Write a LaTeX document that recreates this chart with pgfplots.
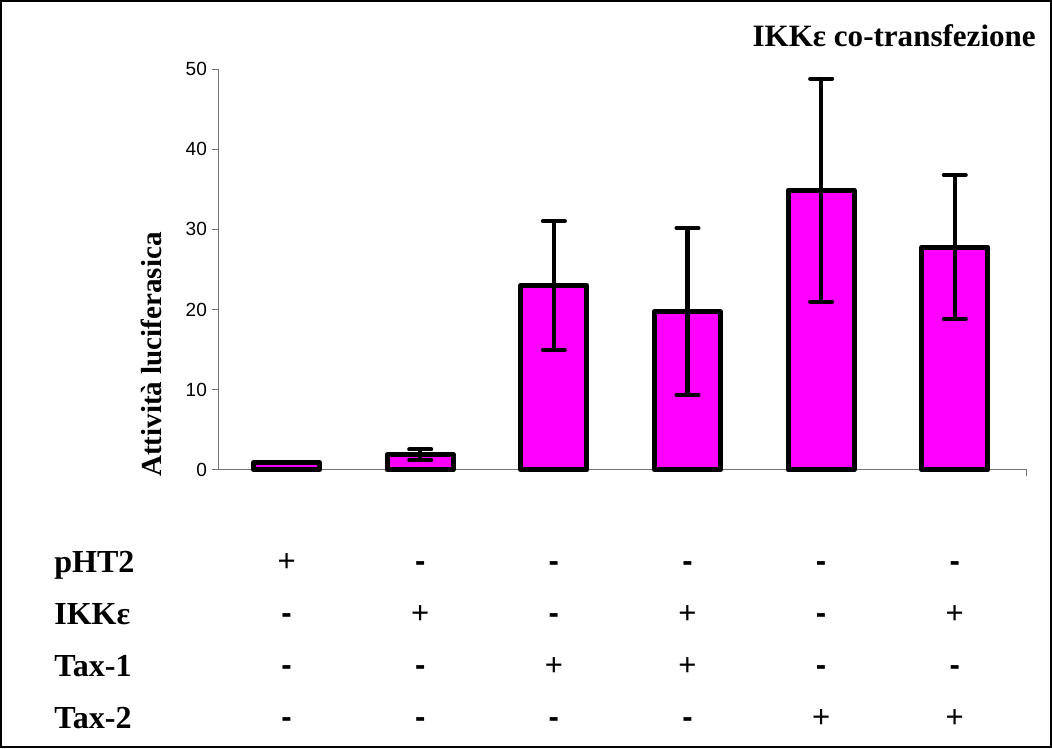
\documentclass[border=0pt]{standalone}
\usepackage{fontspec}
\setmainfont{Liberation Serif}
\setsansfont{Liberation Sans}
\usepackage{pgfplots}
\pgfplotsset{compat=1.18}
\definecolor{barmag}{RGB}{255,0,255}
\newcommand\signrow[7]{%
  \node[sgn] at (axis cs:0,#1) {#2};
  \node[sgn] at (axis cs:1,#1) {#3};
  \node[sgn] at (axis cs:2,#1) {#4};
  \node[sgn] at (axis cs:3,#1) {#5};
  \node[sgn] at (axis cs:4,#1) {#6};
  \node[sgn] at (axis cs:5,#1) {#7};}
\begin{document}
\begin{tikzpicture}[x=1pt,y=1pt, sgn/.style={anchor=base, inner sep=0pt, font=\sffamily\fontsize{31}{34}\selectfont}]
\begin{axis}[
  at={(0,0)}, anchor=south west,
  scale only axis, width=807pt, height=400pt,
  xmin=-0.51, xmax=5.54, ymin=0, ymax=50,
  axis x line=bottom, axis y line=left,
  axis line style={-, black!55, line width=1pt},
  xtick={5.54}, xticklabels={},
  ytick={0,10,20,30,40,50},
  tick align=outside, major tick length=6pt,
  tick style={black!55, line width=1pt},
  /pgf/number format/assume math mode=true,
  yticklabel style={font=\sffamily\fontsize{19}{22}\selectfont, xshift=-2pt},
  ylabel={\bfseries Attività luciferasica},
  ylabel style={font=\fontsize{29}{34}\selectfont, at={(rel axis cs:-0.083,0.2875)}, anchor=center, rotate=0},
  clip=false,
]
\addplot[ybar, bar width=66pt, fill=barmag, draw=black, line width=5pt, line join=round,
  error bars/.cd, y dir=both, y explicit,
  error bar style={line width=4pt, black, line cap=round},
  error mark options={line width=4pt, mark size=11pt, rotate=90, line cap=round}]
  coordinates {
  (0,0.9) +- (0,0)
  (1,1.9) +- (0,0.65)
  (2,23) +- (0,8)
  (3,19.75) +- (0,10.4)
  (4,34.9) +- (0,13.9)
  (5,27.8) +- (0,9)
  };
\signrow{-12.625}{+}{\bfseries -}{\bfseries -}{\bfseries -}{\bfseries -}{\bfseries -}
\signrow{-19.125}{\bfseries -}{+}{\bfseries -}{+}{\bfseries -}{+}
\signrow{-25.625}{\bfseries -}{\bfseries -}{+}{+}{\bfseries -}{\bfseries -}
\signrow{-32.125}{\bfseries -}{\bfseries -}{\bfseries -}{\bfseries -}{+}{+}
\end{axis}
\draw[line width=2pt] (-217,-277) rectangle (831,468);
\node[anchor=base east, font=\bfseries\fontsize{31}{36}\selectfont, inner sep=0pt] at (816,423) {IKKε co-transfezione};
\begin{scope}[every node/.style={anchor=base west, inner sep=0pt, font=\bfseries\fontsize{32}{34}\selectfont}]
\node at (-164,-102) {pHT2};
\node at (-164,-154) {IKKε};
\node at (-164,-206) {Tax-1};
\node at (-164,-258) {Tax-2};
\end{scope}
\end{tikzpicture}
\end{document}
